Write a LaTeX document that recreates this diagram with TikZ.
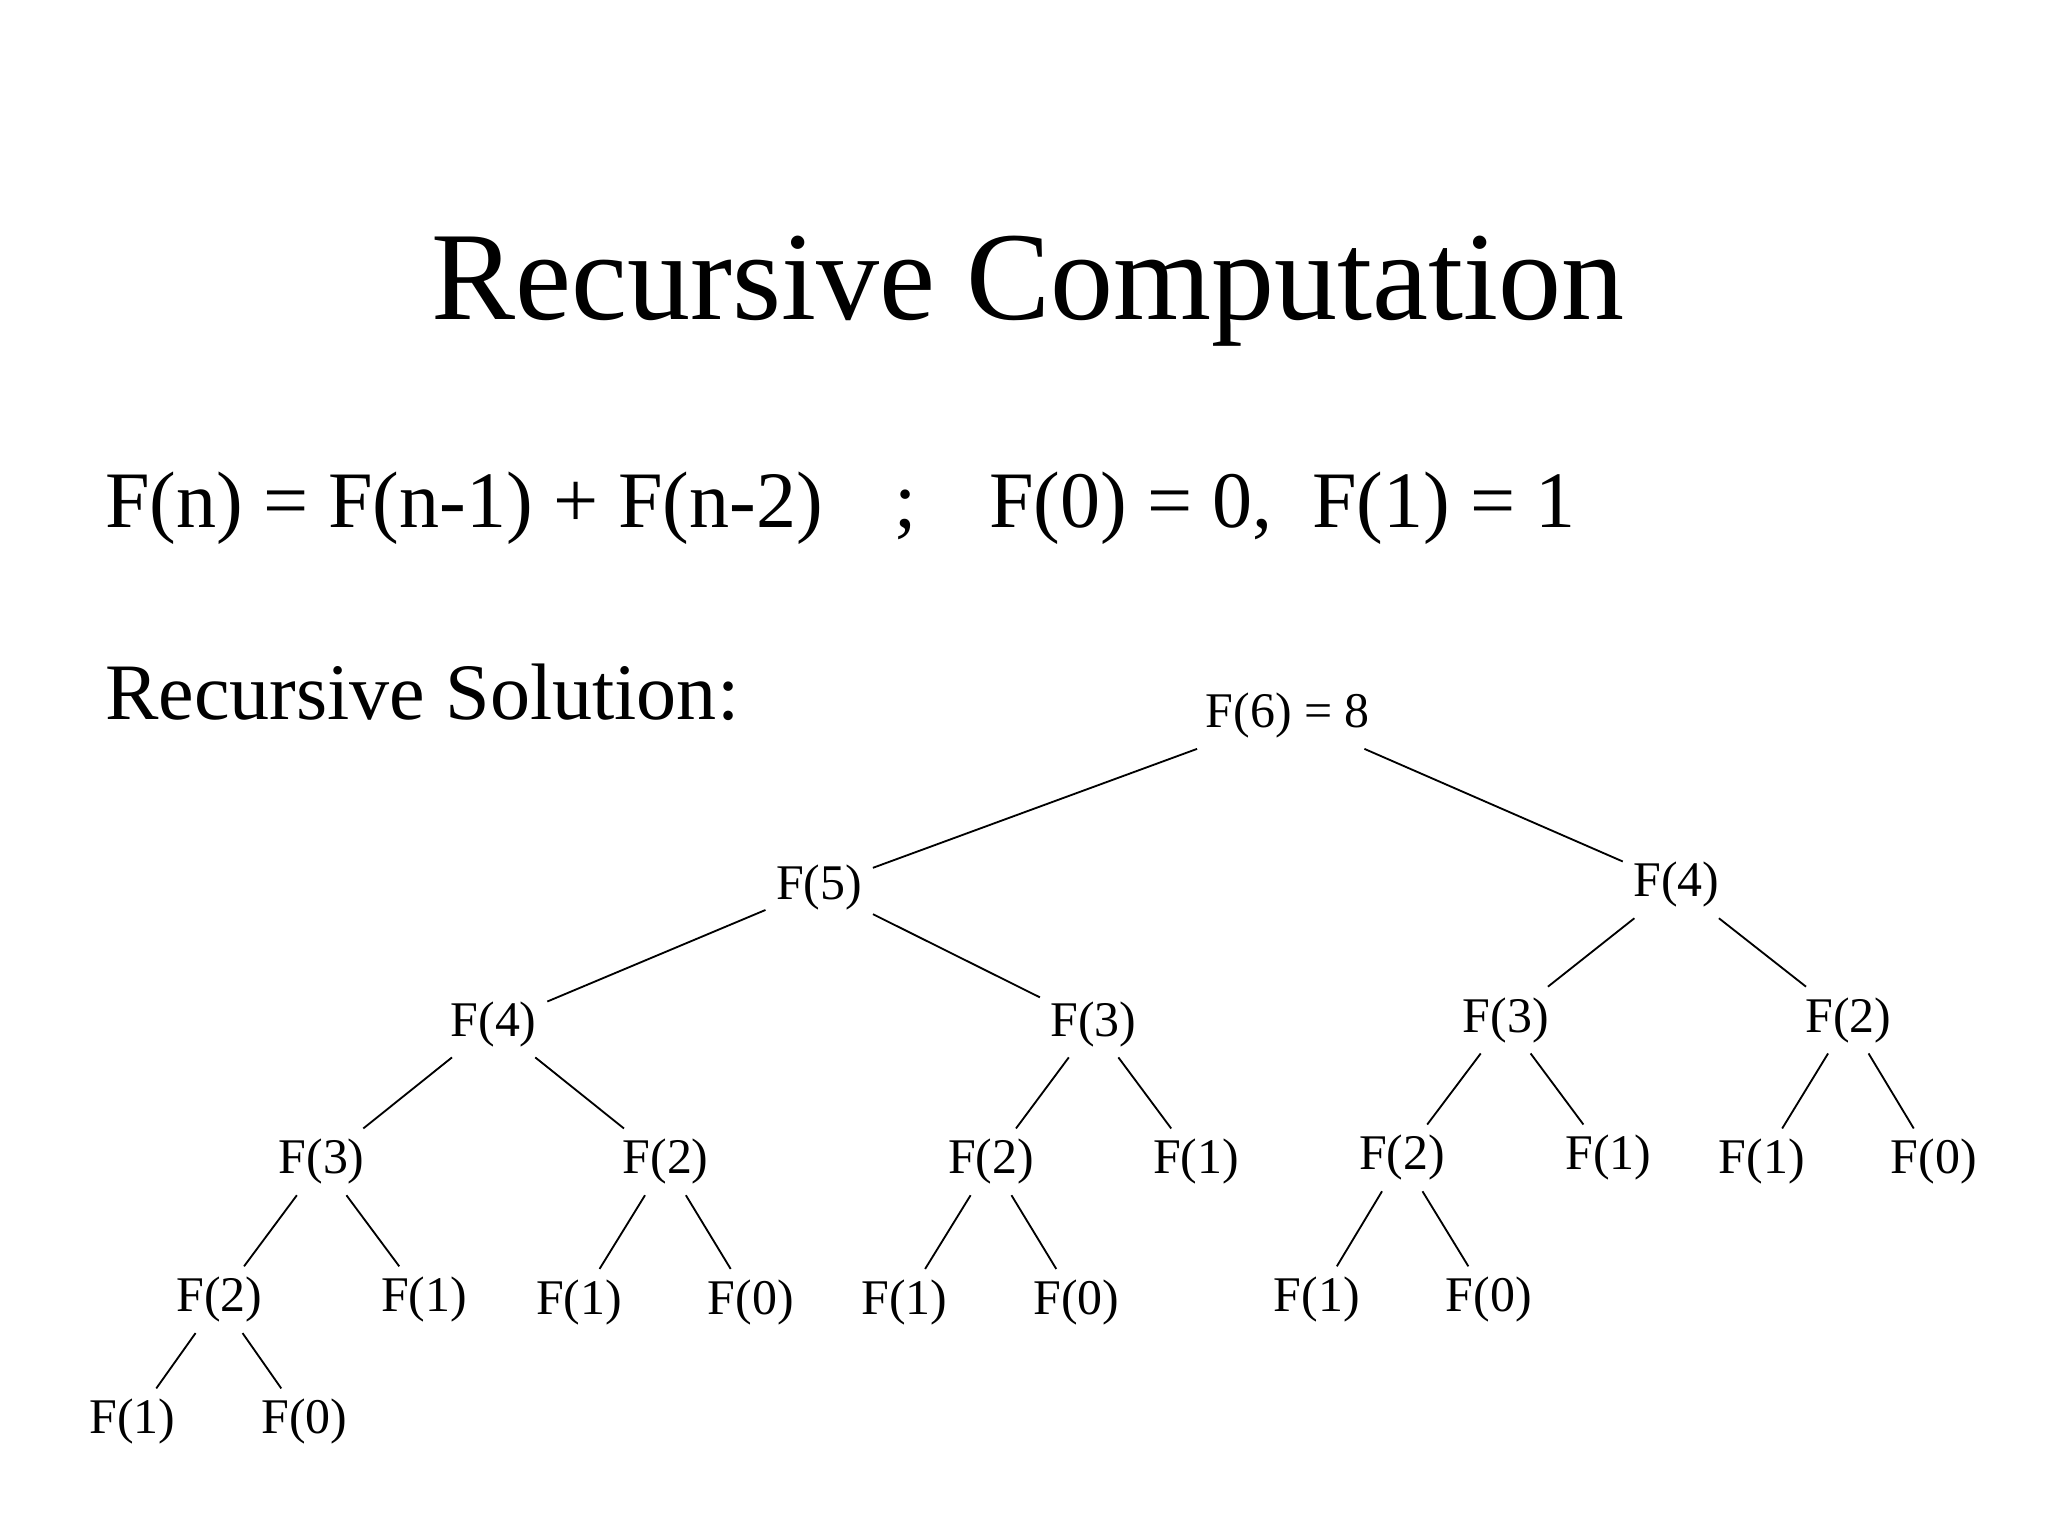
\documentclass[tikz,border=0pt]{standalone}
\usepackage{fontspec}
\setmainfont{Liberation Serif}
\begin{document}
\begin{tikzpicture}[x=1pt,y=-1pt,
  tn/.style={font=\fontsize{38}{40}\selectfont,inner sep=8pt},
  ed/.style={line width=1.4pt}]
\useasboundingbox (0,0) rectangle (1560,1170);
\node[anchor=base,font=\fontsize{96}{100}\selectfont] (title) at (783,243) {Recursive Computation};
\node[anchor=base west,inner sep=0,font=\fontsize{61}{64}\selectfont] (form) at (80,402) {F(n) = F(n-1) + F(n-2)\hspace{0.9em};\hspace{0.9em}F(0) = 0,\hspace{0.5em}F(1) = 1};
\node[anchor=base west,inner sep=0,font=\fontsize{61}{64}\selectfont] (sol) at (80,548) {Recursive Solution:};
\node[tn] (r) at (981,545) {F(6) = 8};
\node[tn] (a) at (624,676) {F(5)};
\node[tn] (b) at (1277,674) {F(4)};
\node[tn] (aa) at (376,780) {F(4)};
\node[tn] (ab) at (833,780) {F(3)};
\node[tn] (ba) at (1147,777) {F(3)};
\node[tn] (bb) at (1408,777) {F(2)};
\node[tn] (aaa) at (245,885) {F(3)};
\node[tn] (aab) at (507,885) {F(2)};
\node[tn] (aba) at (755,885) {F(2)};
\node[tn] (abb) at (911,885) {F(1)};
\node[tn] (baa) at (1068,882) {F(2)};
\node[tn] (bab) at (1225,882) {F(1)};
\node[tn] (bba) at (1342,885) {F(1)};
\node[tn] (bbb) at (1473,885) {F(0)};
\node[tn] (aaaa) at (167,990) {F(2)};
\node[tn] (aaab) at (323,990) {F(1)};
\node[tn] (aaba) at (441,992) {F(1)};
\node[tn] (aabb) at (572,992) {F(0)};
\node[tn] (abaa) at (689,992) {F(1)};
\node[tn] (abab) at (820,992) {F(0)};
\node[tn] (baaa) at (1003,990) {F(1)};
\node[tn] (baab) at (1134,990) {F(0)};
\node[tn] (x1) at (101,1083) {F(1)};
\node[tn] (x0) at (232,1083) {F(0)};
\foreach \p/\c in {r/a,r/b,a/aa,a/ab,b/ba,b/bb,aa/aaa,aa/aab,ab/aba,ab/abb,ba/baa,ba/bab,bb/bba,bb/bbb,aaa/aaaa,aaa/aaab,aab/aaba,aab/aabb,aba/abaa,aba/abab,baa/baaa,baa/baab,aaaa/x1,aaaa/x0}
  \draw[ed] (\p) -- (\c);
\end{tikzpicture}
\end{document}
